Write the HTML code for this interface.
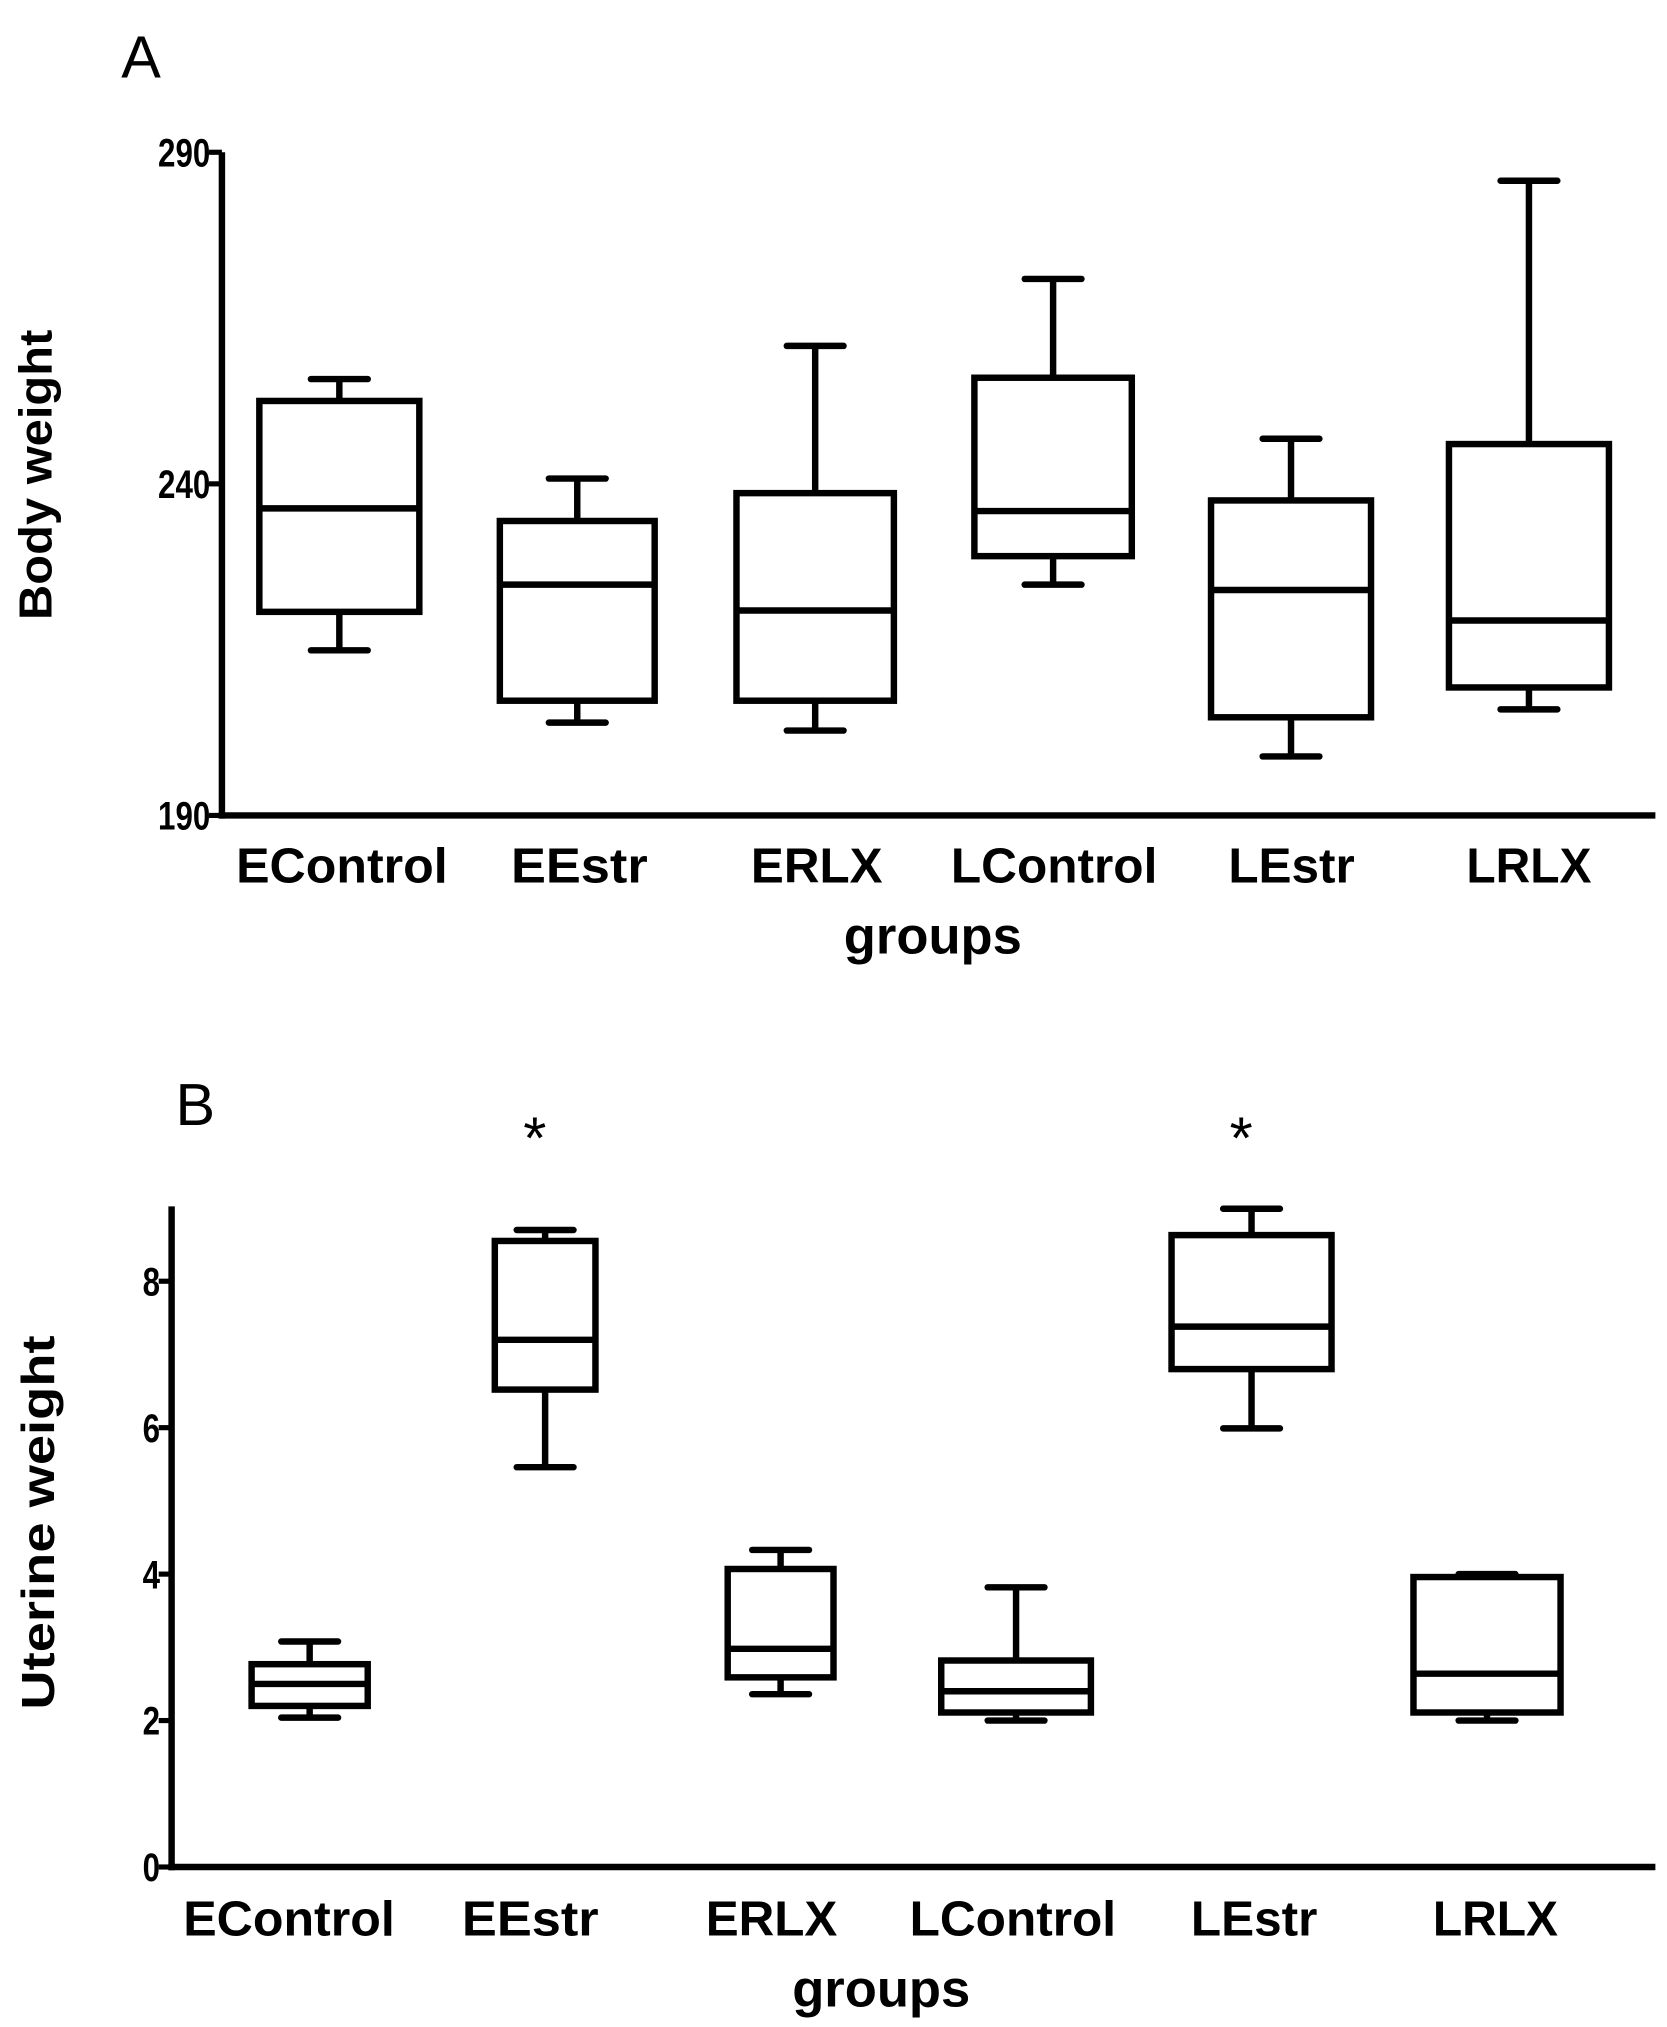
<!DOCTYPE html>
<html><head><meta charset="utf-8"><style>
html,body{margin:0;padding:0;background:#fff}
svg{display:block}
text{font-family:"Liberation Sans",Arial,sans-serif;fill:#000}
</style></head><body>
<svg id="fig" width="1667" height="2027" viewBox="0 0 1292 1571" xmlns="http://www.w3.org/2000/svg"></svg>
<script>
const categories = ["EControl","EEstr","ERLX","LControl","LEstr","LRLX"];
// Panel A: body weight
const aMax = [255.8,240.8,260.8,270.9,246.8,285.7];
const aQ3  = [252.5,234.4,238.6,256.0,237.5,246.0];
const aMed = [236.3,224.8,220.9,235.9,224.0,219.4];
const aQ1  = [220.7,207.3,207.3,229.1,204.8,209.3];
const aMin = [214.9,204.0,202.8,224.8,198.9,206.0];
const aTicks = [190,240,290];
// Panel B: uterine weight
const bMax = [3.08,8.70,4.33,3.82,8.99,4.00];
const bQ3  = [2.77,8.55,4.07,2.82,8.63,3.96];
const bMed = [2.50,7.20,2.98,2.40,7.38,2.64];
const bQ1  = [2.20,6.52,2.59,2.11,6.80,2.11];
const bMin = [2.04,5.46,2.36,2.00,5.99,2.00];
const bTicks = [0,2,4,6,8];
const bStars = [false,true,false,false,true,false];

const labelWidths = [164,106,102,160,98,97];

const NS="http://www.w3.org/2000/svg";
const svg=document.getElementById('fig');
function el(tag,attrs,parent){const e=document.createElementNS(NS,tag);for(const k in attrs)e.setAttribute(k,attrs[k]);(parent||svg).appendChild(e);return e;}
function txt(s,attrs,parent){const t=el('text',attrs,parent);t.textContent=s;return t;}

function panel(cfg){
  const g=el('g',{});
  
  
  const y=v=>cfg.y0+(v-cfg.vmin)/(cfg.vmax-cfg.vmin)*(cfg.y1-cfg.y0);
  const x=i=>cfg.xc0+cfg.step*i;
  const yax=el('line',{x1:cfg.ax,y1:cfg.axTop,x2:cfg.ax,y2:y(cfg.vmin)+2.5,stroke:'#000','stroke-width':5},g);
  
  
  const xax=el('line',{x1:cfg.ax-2.5,y1:y(cfg.vmin),x2:1283,y2:y(cfg.vmin),stroke:'#000','stroke-width':5},g);
  
  
  cfg.ticks.forEach(t=>{
    const l=el('line',{x1:cfg.ax-10,y1:y(t),x2:cfg.ax,y2:y(t),stroke:'#000','stroke-width':4},g);
    
    
    const tl=txt(String(t),{x:cfg.ax-9,y:y(t)+11,'text-anchor':'end','font-size':31,'font-weight':'bold',textLength:String(t).length*13.5,lengthAdjust:'spacingAndGlyphs'},g);
    
    
  });
  categories.forEach((c,i)=>{
    const bx=el('g',{},g);
    
    
    const cx=x(i),hw=cfg.hw[i],cw=22;
    el('line',{x1:cx,y1:y(cfg.max[i]),x2:cx,y2:y(cfg.q3[i]),stroke:'#000','stroke-width':5},bx);
    el('line',{x1:cx,y1:y(cfg.q1[i]),x2:cx,y2:y(cfg.min[i]),stroke:'#000','stroke-width':5},bx);
    el('line',{x1:cx-cw,y1:y(cfg.max[i]),x2:cx+cw,y2:y(cfg.max[i]),stroke:'#000','stroke-width':5,'stroke-linecap':'round'},bx);
    el('line',{x1:cx-cw,y1:y(cfg.min[i]),x2:cx+cw,y2:y(cfg.min[i]),stroke:'#000','stroke-width':5,'stroke-linecap':'round'},bx);
    el('rect',{x:cx-hw,y:y(cfg.q3[i]),width:2*hw,height:y(cfg.q1[i])-y(cfg.q3[i]),fill:'none',stroke:'#000','stroke-width':5},bx);
    el('line',{x1:cx-hw,y1:y(cfg.med[i]),x2:cx+hw+2,y2:y(cfg.med[i]),stroke:'#000','stroke-width':5},bx);
    const lab=txt(c,{x:cfg.lx0+cfg.lstep*i,y:cfg.labY,'text-anchor':'middle','font-size':38,'font-weight':'bold',textLength:labelWidths[i],lengthAdjust:'spacingAndGlyphs'},g);
    
    
    if(cfg.stars&&cfg.stars[i]){
      const s=txt('*',{x:cx-8,y:cfg.starY,'text-anchor':'middle','font-size':46},g);
      
      
    }
  });
  const xt=txt('groups',{x:cfg.gx,y:cfg.labY+55,'text-anchor':'middle','font-size':40,'font-weight':'bold',textLength:138,lengthAdjust:'spacingAndGlyphs'},g);
  
  
  const yt=txt(cfg.ytitle,{x:0,y:0,'text-anchor':'middle','font-size':36,'font-weight':'bold',textLength:cfg.ytl,lengthAdjust:'spacingAndGlyphs',transform:`translate(${cfg.ytx},${cfg.yty}) rotate(-90)`},g);
  
  
  const pl=txt(cfg.letter,{x:cfg.letX,y:cfg.letY,'font-size':46},g);
  
  
}

panel({name:'panel-a-body-weight',vmin:190,vmax:290,y0:632,y1:118,ax:172,axTop:118,
  xc0:263,step:184.4,hw:[62,60,61,61,62,62],ticks:aTicks,
  max:aMax,q3:aQ3,med:aMed,q1:aQ1,min:aMin,labY:684,lx0:265,lstep:184,gx:723,
  ytitle:'Body weight',ytl:225,ytx:40,yty:368,letter:'A',letX:94,letY:60});
panel({name:'panel-b-uterine-weight',vmin:0,vmax:8,y0:1447,y1:993,ax:133,axTop:935,
  xc0:240,step:182.5,hw:[45,39,41,58,62,57],ticks:bTicks,
  max:bMax,q3:bQ3,med:bMed,q1:bQ1,min:bMin,labY:1500,lx0:224,lstep:187,gx:683,stars:bStars,starY:898,
  ytitle:'Uterine weight',ytl:290,ytx:42,yty:1180,letter:'B',letX:136,letY:872});
</script>
</body></html>
